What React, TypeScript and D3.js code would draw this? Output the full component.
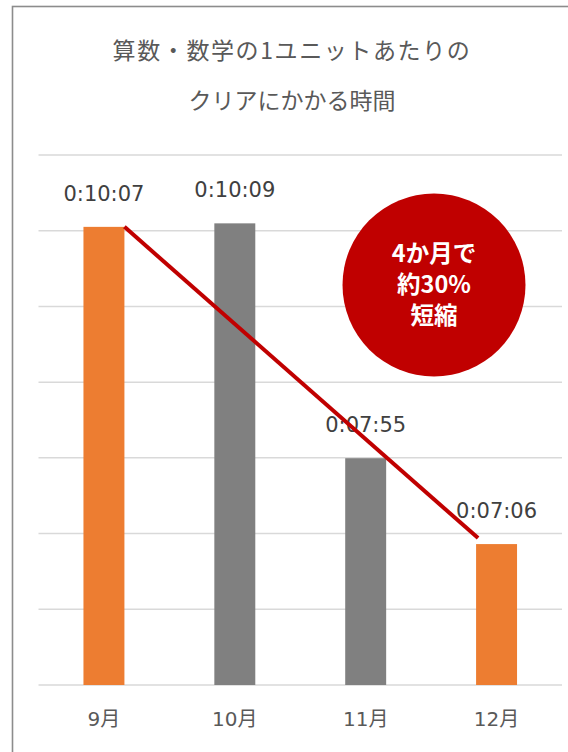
import React from "react";
import * as d3 from "d3";

const categories = ["9月", "10月", "11月", "12月"];
const valueLabels = ["0:10:07", "0:10:09", "0:07:55", "0:07:06"];
const valuesSec = [607, 609, 475, 426];
const barColors = ["#ED7D31", "#808080", "#808080", "#ED7D31"];
const titleLines = ["算数・数学の1ユニットあたりの", "クリアにかかる時間"];
const badgeLines = ["4か月で", "約30%", "短縮"];
// Excel-style time axis: 0.004 days .. 0.0075 days, step 0.0005 days
const axisMinSec = 345.6;
const axisMaxSec = 648;
const axisStepSec = 43.2;

const W = 568;
const H = 752;
const JP = "'Noto Sans CJK JP', 'Noto Sans', sans-serif";
const NUM = "'DejaVu Sans', 'Noto Sans CJK JP', sans-serif";

export default function App() {
  const x = d3.scaleBand<string>().domain(categories).range([38.5, 562]).paddingInner(0.687).paddingOuter(0.3435);
  const y = d3.scaleLinear().domain([axisMinSec, axisMaxSec]).range([685, 155]);
  const ticks = d3.range(0, 8).map((i) => axisMinSec + i * axisStepSec);
  const bw = x.bandwidth();

  const lx1 = (x(categories[0]) as number) + bw;
  const ly1 = y(valuesSec[0]);
  const lx2 = (x(categories[3]) as number) + 2;
  const ly2 = y(valuesSec[3]) - 6;

  return (
    <svg width={W} height={H} style={{ position: "absolute", left: 0, top: 0, background: "#fff" }}>
      <rect x={12.5} y={6.5} width={W + 20} height={H + 20} fill="#fff" stroke="#8c8c8c" strokeWidth={1.6} />
      {titleLines.map((t, i) => (
        <text key={t} x={292} y={59 + i * 50} textAnchor="middle" fontFamily={JP} fontSize={23} fill="#595959" letterSpacing={i === 0 ? 1.6 : 0}>
          {t}
        </text>
      ))}
      {ticks.map((t) => (
        <line key={t} x1={38.5} x2={562} y1={y(t)} y2={y(t)} stroke="#d9d9d9" strokeWidth={1.5} />
      ))}
      {categories.map((c, i) => (
        <rect key={c} x={x(c)} y={y(valuesSec[i])} width={bw} height={y(axisMinSec) - y(valuesSec[i])} fill={barColors[i]} />
      ))}
      {categories.map((c, i) => (
        <text key={"v" + c} x={(x(c) as number) + bw / 2} y={y(valuesSec[i]) - 26} textAnchor="middle" fontFamily={NUM} fontSize={21} fill="#404040">
          {valueLabels[i]}
        </text>
      ))}
      {categories.map((c) => (
        <text key={"c" + c} x={(x(c) as number) + bw / 2} y={726} textAnchor="middle" fontFamily={NUM} fontSize={20} fill="#595959">
          {c}
        </text>
      ))}
      <line x1={lx1} y1={ly1} x2={lx2} y2={ly2} stroke="#C00000" strokeWidth={4} />
      <circle cx={434} cy={285} r={91.5} fill="#C00000" />
      {badgeLines.map((t, i) => (
        <text key={t} x={434} y={262 + i * 31} textAnchor="middle" fontFamily={JP} fontWeight={700} fontSize={23.5} fill="#fff">
          {t}
        </text>
      ))}
    </svg>
  );
}
